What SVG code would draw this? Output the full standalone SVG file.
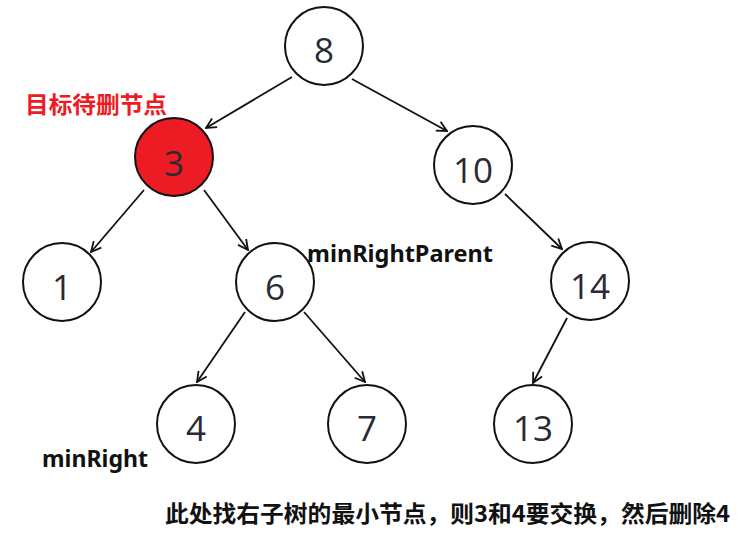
<svg xmlns="http://www.w3.org/2000/svg" width="755" height="540" viewBox="0 0 755 540">
<style>
.node circle{fill:#fff;stroke:#111;stroke-width:2}
.node text{font-family:"Open Sans","Liberation Sans",sans-serif;font-size:35px;fill:#2a2a33;text-anchor:middle}
.edge{stroke:#111;stroke-width:1.8;fill:none;marker-end:url(#arr)}
.lbl{font-family:"Noto Sans","Liberation Sans","Noto Sans CJK SC",sans-serif;font-weight:bold;font-size:23.5px;fill:#111}
.cjk{font-family:"Noto Sans CJK SC",sans-serif;font-weight:bold;font-size:23px}
</style>
<defs>
<marker id="arr" viewBox="0 0 12 12" refX="11" refY="6" markerWidth="12" markerHeight="12" markerUnits="userSpaceOnUse" orient="auto">
<path d="M1,1 L11,6 L1,11" fill="none" stroke="#111" stroke-width="1.8"/>
</marker>
</defs>
<rect width="755" height="540" fill="#fff"/>
<g id="connectors">
<line class="edge" x1="292" y1="77" x2="206" y2="128"/>
<line class="edge" x1="352" y1="79" x2="447" y2="131"/>
<line class="edge" x1="144" y1="190" x2="91" y2="252"/>
<line class="edge" x1="204" y1="190" x2="248" y2="250"/>
<line class="edge" x1="505" y1="194" x2="562" y2="249"/>
<line class="edge" x1="567" y1="318" x2="533" y2="383"/>
<line class="edge" x1="245" y1="312" x2="197" y2="382"/>
<line class="edge" x1="304" y1="312" x2="365" y2="382"/>
</g>
<g id="n8" class="node"><circle cx="324" cy="46" r="39"/><text x="324" y="63">8</text></g>
<g id="n3" class="node"><circle cx="174" cy="157" r="39" style="fill:#ed1c24"/><text x="174" y="176">3</text></g>
<g id="n10" class="node"><circle cx="473" cy="165" r="39"/><text x="473" y="183">10</text></g>
<g id="n1" class="node"><circle cx="62" cy="282" r="39"/><text x="62" y="300">1</text></g>
<g id="n6" class="node"><circle cx="275" cy="282" r="39"/><text x="275" y="300">6</text></g>
<g id="n14" class="node"><circle cx="590" cy="281" r="39"/><text x="590" y="299">14</text></g>
<g id="n4" class="node"><circle cx="196" cy="424" r="39"/><text x="196" y="441">4</text></g>
<g id="n7" class="node"><circle cx="367" cy="424" r="39"/><text x="367" y="441">7</text></g>
<g id="n13" class="node"><circle cx="533" cy="424" r="39"/><text x="533" y="441">13</text></g>
<text class="cjk" x="25" y="113" fill="#ed1c24" textLength="142" lengthAdjust="spacingAndGlyphs">目标待删节点</text>
<text class="lbl" x="307" y="262" textLength="186" lengthAdjust="spacingAndGlyphs">minRightParent</text>
<text class="lbl" x="42" y="467" textLength="106" lengthAdjust="spacingAndGlyphs">minRight</text>
<text class="cjk" x="165" y="522" fill="#111" textLength="565" lengthAdjust="spacingAndGlyphs">此处找右子树的最小节点，则3和4要交换，然后删除4</text>
</svg>
